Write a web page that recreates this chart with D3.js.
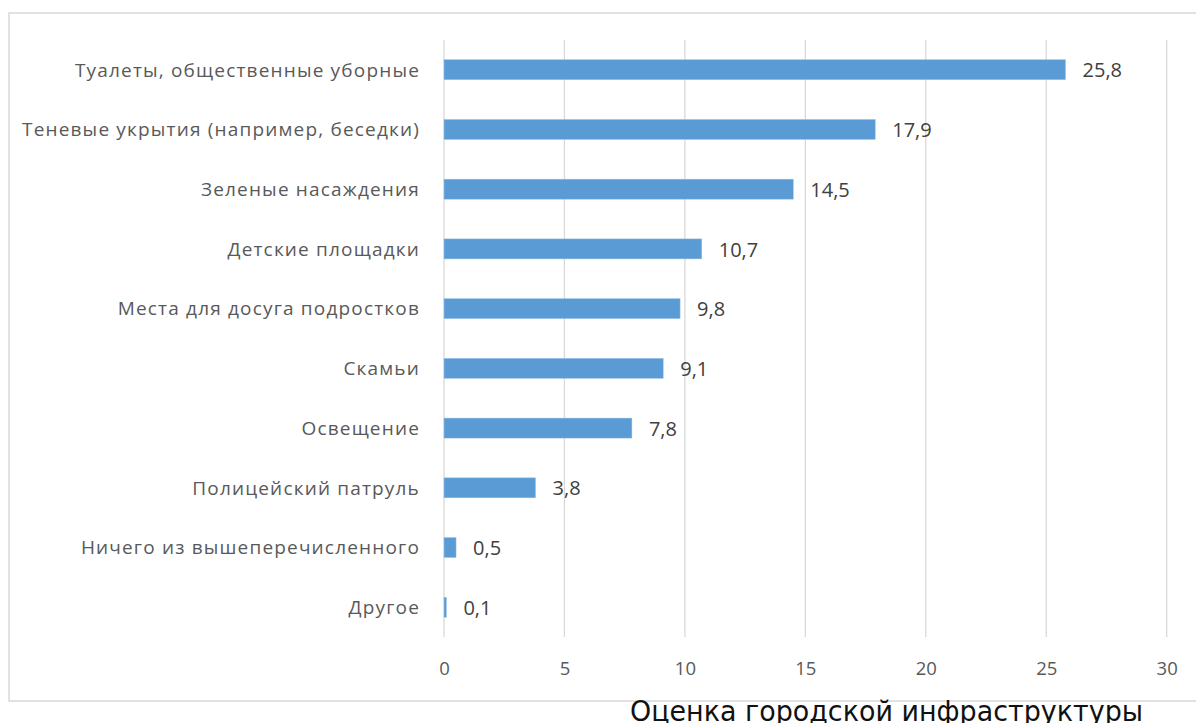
<!DOCTYPE html>
<html><head><meta charset="utf-8">
<script src="https://cdn.jsdelivr.net/npm/d3@7"></script>
<style>body{margin:0;background:#fff}svg{display:block}</style>
</head><body>
<svg id="c" width="1196" height="723"></svg>
<script>
const categories = ["Туалеты, общественные уборные","Теневые укрытия (например, беседки)","Зеленые насаждения","Детские площадки","Места для досуга подростков","Скамьи","Освещение","Полицейский патруль","Ничего из вышеперечисленного","Другое"];
const values = [25.8,17.9,14.5,10.7,9.8,9.1,7.8,3.8,0.5,0.1];
const xTicks = [0,5,10,15,20,25,30];
const title = "Оценка городской инфраструктуры";

const svg = d3.select("#c");
const m = {left:444, right:1166.7, top:40, bottom:637};
svg.append("rect").attr("x",9).attr("y",13).attr("width",1200).attr("height",688)
  .attr("fill","#fff").attr("stroke","#d9d9d9").attr("stroke-width",1.5);

const x = d3.scaleLinear().domain([0,30]).range([m.left,m.right]);
const y = d3.scaleBand().domain(categories).range([m.top,m.bottom]).paddingInner(0.665).paddingOuter(0.33);

svg.append("g").selectAll("line").data(xTicks).join("line")
  .attr("x1",d=>x(d)).attr("x2",d=>x(d)).attr("y1",m.top).attr("y2",m.bottom)
  .attr("stroke","#d9d9d9").attr("stroke-width",1.3);

const font = "'Open Sans', sans-serif";
const xa = d3.axisBottom(x).tickValues(xTicks).tickSize(0).tickPadding(0);
const gx = svg.append("g").attr("transform",`translate(0,${m.bottom})`).call(xa);
gx.select(".domain").remove();
gx.selectAll("text").attr("y",38).attr("dy",0).attr("fill","#595959")
  .style("font-family",font).style("font-size","18.5px");

const ya = d3.axisLeft(y).tickSize(0).tickPadding(24);
const gy = svg.append("g").attr("transform",`translate(${m.left},0)`).call(ya);
gy.select(".domain").remove();
const lbl = gy.selectAll("text").attr("fill","#595959").attr("dy","0.36em")
  .style("font-family",font).style("font-size","19px");
// spread letters so the longest label spans the same width as in the reference
let longest = null, lw = 0;
lbl.each(function(){ const w=this.getComputedTextLength(); if(w>lw){lw=w;longest=this;} });
const n = longest.textContent.length;
const ls = Math.max(0,(398 - lw)/n);
lbl.style("letter-spacing", ls+"px");

svg.append("g").selectAll("rect").data(values).join("rect")
  .attr("x",x(0)).attr("y",(d,i)=>y(categories[i]))
  .attr("width",d=>x(d)-x(0)).attr("height",y.bandwidth())
  .attr("fill","#5b9bd5").attr("stroke","#9dc3e6").attr("stroke-width",0.5);

svg.append("g").selectAll("text").data(values).join("text")
  .attr("x",d=>x(d)+17).attr("y",(d,i)=>y(categories[i])+y.bandwidth()/2)
  .attr("dy","0.38em").attr("fill","#404040")
  .style("font-family",font).style("font-size","20px")
  .text(d=>d3.format(".1f")(d).replace(".",","));

svg.append("text").attr("x",630).attr("y",721).attr("fill","#111")
  .attr("textLength",513).attr("lengthAdjust","spacingAndGlyphs")
  .style("font-family","'DejaVu Sans', sans-serif").style("font-size","28px")
  .text(title);
</script>
</body></html>
